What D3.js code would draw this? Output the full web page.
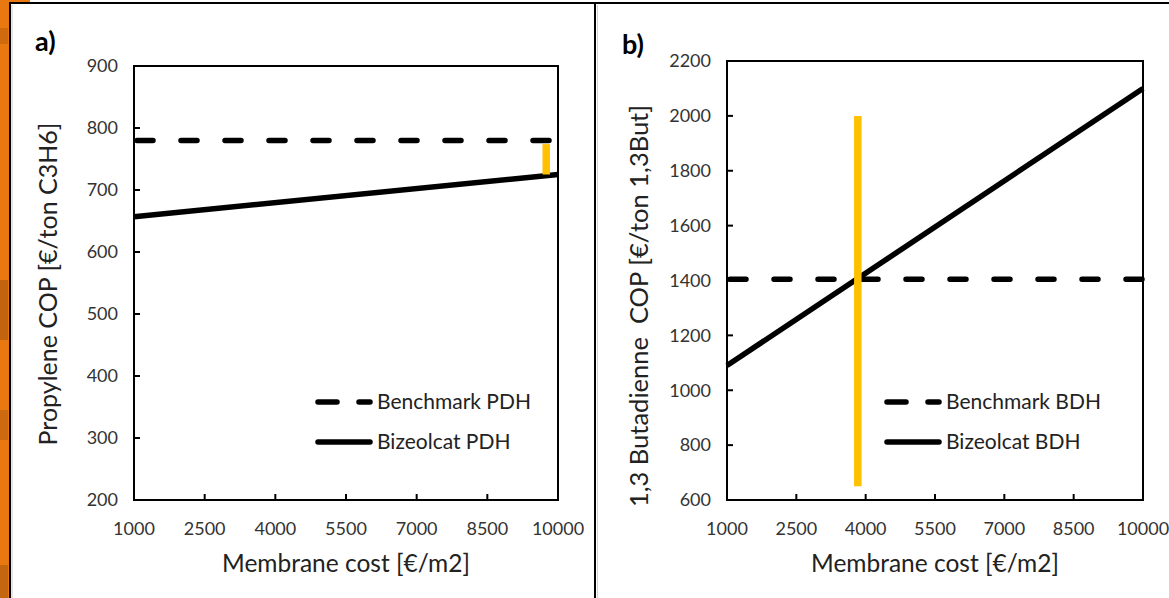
<!DOCTYPE html>
<html>
<head>
<meta charset="utf-8">
<script src="https://cdn.jsdelivr.net/npm/d3@7"></script>
<style>
  html, body { margin: 0; padding: 0; background: #fff; }
  svg { display: block; font-family: Lato, "Open Sans", sans-serif; }
  .tick-label { fill: #333; font-size: 18px; }
  .axis-title { fill: #222; font-size: 24.5px; white-space: pre; }
  .legend-text { fill: #222; font-size: 21px; }
  .panel-label { fill: #000; font-size: 27px; font-weight: bold; }
</style>
</head>
<body>
<div id="chart"></div>
<script>
const width = 1169;
const height = 598;

// x axis shared by both panels
const costDomain = [1000, 10000];
const costTicks = [1000, 2500, 4000, 5500, 7000, 8500, 10000];

// panel a) propylene
const copTicksA = [200, 300, 400, 500, 600, 700, 800, 900];
const benchmarkPDH = [[1000, 780], [10000, 780]];
const bizeolcatPDH = [[1000, 657], [10000, 725]];
const gapMarkerA = [[9750, 774], [9750, 725]];

// panel b) butadiene
const copTicksB = [600, 800, 1000, 1200, 1400, 1600, 1800, 2000, 2200];
const benchmarkBDH = [[1000, 1405], [10000, 1405]];
const bizeolcatBDH = [[1000, 1090], [10000, 2100]];
const gapMarkerB = [[3830, 650], [3830, 2000]];

const svg = d3.select("#chart").append("svg")
    .attr("width", width)
    .attr("height", height);

// orange slide background at the left edge
svg.append("rect").attr("x", 0).attr("y", 0).attr("width", 10).attr("height", height).attr("fill", "#e8780f");
svg.append("rect").attr("x", 0).attr("y", 0).attr("width", 30).attr("height", 3).attr("fill", "#e8780f");
[[28, 16, "#cf6b0e"], [280, 60, "#c2640f"], [410, 30, "#cd6a10"], [565, 33, "#c46510"]].forEach(([y, h, c]) => {
    svg.append("rect").attr("x", 0).attr("y", y).attr("width", 8).attr("height", h).attr("fill", c);
});

// outer frame and divider
svg.append("line").attr("x1", 9).attr("x2", width).attr("y1", 3).attr("y2", 3)
    .attr("stroke", "#000").attr("stroke-width", 2);
svg.append("line").attr("x1", 10).attr("x2", 10).attr("y1", 3).attr("y2", height)
    .attr("stroke", "#000").attr("stroke-width", 2);
svg.append("line").attr("x1", 12).attr("x2", 12).attr("y1", 5).attr("y2", height)
    .attr("stroke", "#ccc").attr("stroke-width", 1);
svg.append("line").attr("x1", 595).attr("x2", 595).attr("y1", 3).attr("y2", height)
    .attr("stroke", "#000").attr("stroke-width", 2);
svg.append("line").attr("x1", 597.5).attr("x2", 597.5).attr("y1", 5).attr("y2", height)
    .attr("stroke", "#d4d4d4").attr("stroke-width", 1);

function drawPanel(p) {
    const x = d3.scaleLinear().domain(costDomain).range([p.left, p.right]);
    const y = d3.scaleLinear().domain(p.yDomain).range([p.bottom, p.top]);
    const g = svg.append("g");

    // ticks (pointing inward)
    g.selectAll(".ytick").data(p.yTicks).join("line")
        .attr("x1", p.left).attr("x2", p.left + 6)
        .attr("y1", d => y(d)).attr("y2", d => y(d))
        .attr("stroke", "#000").attr("stroke-width", 2);
    g.selectAll(".xtick").data(costTicks).join("line")
        .attr("x1", d => x(d)).attr("x2", d => x(d))
        .attr("y1", p.bottom).attr("y2", p.bottom - 6)
        .attr("stroke", "#000").attr("stroke-width", 2);

    g.selectAll(".ylab").data(p.yTicks).join("text")
        .attr("class", "tick-label")
        .attr("x", p.left - 16).attr("y", d => y(d))
        .attr("dy", "0.35em").attr("text-anchor", "end")
        .text(d => d);
    g.selectAll(".xlab").data(costTicks).join("text")
        .attr("class", "tick-label")
        .attr("x", d => x(d)).attr("y", p.bottom + 35)
        .attr("text-anchor", "middle")
        .text(d => d);

    const line = d3.line().x(d => x(d[0])).y(d => y(d[1]));

    g.append("path").datum(p.bizeolcat).attr("d", line)
        .attr("fill", "none").attr("stroke", "#000").attr("stroke-width", 5.5);
    g.append("path").datum(p.benchmark).attr("d", line)
        .attr("fill", "none").attr("stroke", "#000").attr("stroke-width", 5.5)
        .attr("stroke-linecap", "round").attr("stroke-dasharray", "16,28")
        .attr("stroke-dashoffset", -3);
    g.append("path").datum(p.marker).attr("d", line)
        .attr("fill", "none").attr("stroke", "#ffc000").attr("stroke-width", 7.5);

    // plot frame
    g.append("rect")
        .attr("x", p.left).attr("y", p.top)
        .attr("width", p.right - p.left).attr("height", p.bottom - p.top)
        .attr("fill", "none").attr("stroke", "#000").attr("stroke-width", 2);

    // legend
    const lg = g.append("g").attr("transform", `translate(${p.legendX},${p.legendY})`);
    lg.append("line").attr("x1", 3).attr("x2", 55).attr("y1", 0).attr("y2", 0)
        .attr("stroke", "#000").attr("stroke-width", 5.5)
        .attr("stroke-linecap", "round").attr("stroke-dasharray", "19,22");
    lg.append("line").attr("x1", 3).attr("x2", 55).attr("y1", 40).attr("y2", 40)
        .attr("stroke", "#000").attr("stroke-width", 5.5).attr("stroke-linecap", "round");
    lg.append("text").attr("class", "legend-text").attr("x", 62).attr("y", 0)
        .attr("dy", "0.35em").text(p.names[0]);
    lg.append("text").attr("class", "legend-text").attr("x", 62).attr("y", 40)
        .attr("dy", "0.35em").text(p.names[1]);

    // titles
    g.append("text").attr("class", "axis-title")
        .attr("x", (p.left + p.right) / 2).attr("y", 572)
        .attr("text-anchor", "middle").text("Membrane cost [€/m2]");
    g.append("text").attr("class", "axis-title")
        .attr("transform", `translate(${p.yTitleX},${p.yTitleY}) rotate(-90)`)
        .attr("text-anchor", "middle")
        .style("font-size", p.yTitleSize + "px")
        .text(p.yTitle);
    g.append("text").attr("class", "panel-label")
        .attr("x", p.labelX).attr("y", p.labelY).text(p.label);
}

drawPanel({
    left: 134, right: 558, top: 66, bottom: 500,
    yDomain: [200, 900], yTicks: copTicksA,
    benchmark: benchmarkPDH, bizeolcat: bizeolcatPDH, marker: gapMarkerA,
    names: ["Benchmark PDH", "Bizeolcat PDH"],
    legendX: 315, legendY: 402,
    yTitle: "Propylene COP [€/ton C3H6]", yTitleX: 57, yTitleY: 284, yTitleSize: 25,
    label: "a)", labelX: 35, labelY: 51
});

drawPanel({
    left: 727, right: 1143, top: 61, bottom: 500,
    yDomain: [600, 2200], yTicks: copTicksB,
    benchmark: benchmarkBDH, bizeolcat: bizeolcatBDH, marker: gapMarkerB,
    names: ["Benchmark BDH", "Bizeolcat BDH"],
    legendX: 884, legendY: 402,
    yTitle: "1,3 Butadienne  COP [€/ton 1,3But]", yTitleX: 648, yTitleY: 306, yTitleSize: 25.5,
    label: "b)", labelX: 622, labelY: 54
});
</script>
</body>
</html>
